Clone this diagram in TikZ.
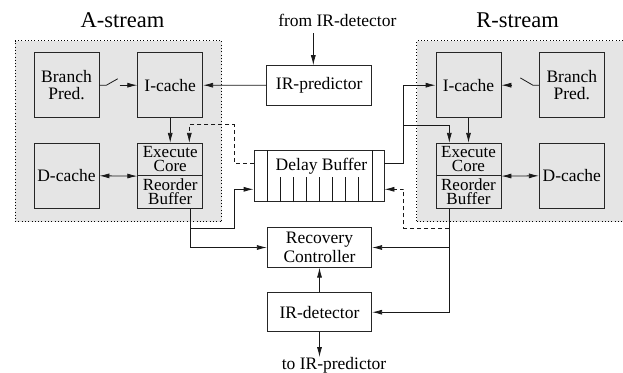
\documentclass[tikz,border=0pt]{standalone}
\usepackage{fontspec}
\setmainfont{Liberation Serif}
\usetikzlibrary{arrows.meta,calc}
\begin{document}
\begin{tikzpicture}[x=1pt,y=-1pt,
  every node/.style={font=\fontsize{17.5}{17}\selectfont, inner sep=0pt, text=black},
  blk/.style={draw=black!85, fill=gray!20, line width=0.8pt, minimum width=65pt, minimum height=65pt, align=center},
  half/.style={blk, minimum height=32.4pt, font=\fontsize{17}{14}\selectfont},
  wbox/.style={draw=black!85, fill=white, line width=0.8pt, minimum width=104.4pt, minimum height=39.4pt, align=center},
  region/.style={draw=black, fill=gray!20, line width=0.8pt, dash pattern=on 0.8pt off 2.5pt, minimum width=206.7pt, minimum height=181pt},
  ln/.style={line width=0.8pt, black!90},
  ar/.style={ln, -{Latex[length=10pt,width=5pt]}},
  arr2/.style={ln, {Latex[length=10pt,width=5pt]}-{Latex[length=10pt,width=5pt]}},
  dsh/.style={dash pattern=on 4pt off 3pt},
  title/.style={font=\fontsize{22.5}{24}\selectfont, anchor=base}
]
\useasboundingbox (0,0) rectangle (623,372);
% regions
\node[region] (areg) at (118.35,131) {};
\node[region, minimum width=207.3pt] (rreg) at (520.35,131) {};
\node[title] (atitle) at (122.5,27.3) {A-stream};
\node[title] (rtitle) at (517.5,27.3) {R-stream};
% A-stream blocks
\node[blk, font=\fontsize{17.5}{17.3}\selectfont] (abp) at (66.5,85.2) {Branch\\Pred.};
\node[blk] (aic) at (170.2,85.2) {I-cache};
\node[blk] (adc) at (66.5,175.8) {D-cache};
\node[half] (aex) at (170.2,159.5) {Execute\\Core};
\node[half] (arb) at (170.2,192) {Reorder\\Buffer};
% R-stream blocks
\node[blk, font=\fontsize{17.5}{17.3}\selectfont] (rbp) at (571.8,85.2) {Branch\\Pred.};
\node[blk] (ric) at (468.5,85.2) {I-cache};
\node[blk] (rdc) at (571.8,175.8) {D-cache};
\node[half] (rex) at (468.5,159.5) {Execute\\Core};
\node[half] (rrb) at (468.5,192) {Reorder\\Buffer};
% middle column
\node[wbox, minimum width=105pt] (irp) at (319.2,85.3) {IR-predictor};
\node[wbox, minimum width=130pt, minimum height=51pt] (db) at (319,176.2) {};
\node[anchor=base] (dbl) at (321.5,170) {Delay Buffer};
\node[wbox, font=\fontsize{17.5}{18.5}\selectfont] (rc) at (319.5,247.5) {Recovery\\Controller};
\node[wbox, minimum height=39pt] (ird) at (319.5,312.2) {IR-detector};
% delay buffer cells
\draw[ln] ($(db.north west)+(13.3,0)$) -- ($(db.south west)+(13.3,0)$);
\draw[ln] ($(db.north east)+(-12.3,0)$) -- ($(db.south east)+(-12.3,0)$);
\foreach \i in {1,...,7} \draw[ln] ($(db.south west)+(13.3+13.05*\i,0)$) -- ++(0,-25);
% from IR-detector
\coordinate (fromend) at (313.3,33);
\node[anchor=base] (fromtxt) at (337.3,26.7) {from IR-detector};
\draw[ar] (fromend) -- (fromend |- irp.north);
\draw[ar] (irp.west) -- (aic.east);
% A-stream internals
\draw[ln] (abp.east) -- ++(7,0) -- ++(11.3,-6.4);
\draw[ar] ($(aic.west)+(-17.7,0)$) -- (aic.west);
\draw[ar] (aic.south) -- (aex.north);
\draw[arr2] (adc.east) -- (aex.south west);
\draw[ar, dsh] ($(db.west)+(0,-12.9)$) -- ++(-19.3,0) |- ($(aex.north)+(19.1,-18.3)$) -- ($(aex.north)+(19.1,0)$);
% A reorder out
\coordinate (aout) at ($(arb.south)+(19.8,0)$);
\draw[ar] (aout) |- (rc.west);
\draw[ar] (aout) -- ++(0,20) -| ($(db.west)+(-19,13.1)$) -- ($(db.west)+(0,13.1)$);
% delay buffer to R
\draw[ar] ($(db.east)+(0,-12.9)$) -- ++(19.3,0) |- (ric.west);
\coordinate (rj) at ($(db.east)+(19.3,-51.2)$);
\draw[ar] (rj) -| ($(rex.north)+(-19.2,0)$);
% R-stream internals
\draw[ar] (ric.south) -- (rex.north);
\draw[ln] (rbp.west) -- ++(-6,0) -- ++(-12.6,-7.3);
\draw[ar] ($(ric.east)+(10.7,0)$) -- (ric.east);
\draw[arr2] (rex.south east) -- (rdc.west);
% R reorder out
\coordinate (rout) at ($(rrb.south)+(-19.5,0)$);
\draw[ar] (rout) |- (ird.east);
\draw[ar] (rout |- rc.east) -- (rc.east);
\draw[ar, dsh] ($(rrb.south)+(-19.5,19.4)$) -| ($(db.east)+(19.3,13.1)$) -- ($(db.east)+(0,13.1)$);
% bottom
\draw[ar] (ird.north) -- (rc.south);
\coordinate (toend) at ($(ird.south)+(0,25)$);
\draw[ar] (ird.south) -- (toend);
\node[anchor=base] (totxt) at (334,369) {to IR-predictor};
\end{tikzpicture}
\end{document}
